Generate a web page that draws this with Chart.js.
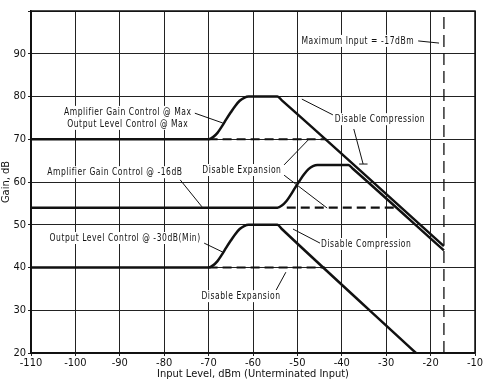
<!DOCTYPE html>
<html><head><meta charset="utf-8">
<script src="https://cdn.jsdelivr.net/npm/chart.js@4/dist/chart.umd.min.js"></script>
<style>html,body{margin:0;padding:0;background:#fff}#wrap{width:487px;height:383px}</style>
</head><body><div id="wrap"><canvas id="c" width="487" height="383"></canvas></div>
<script>
// ---- data ----
const xTicks = [-110,-100,-90,-80,-70,-60,-50,-40,-30,-20,-10];
const yTicks = [20,30,40,50,60,70,80,90];
const maxX = [-110,-70,-69,-68,-67,-66,-65,-64,-63,-62,-61,-54.5,-53.5,-17];
const maxY = [70,70,70.5,71.5,73,74.7,76.3,77.8,79,79.7,80,80,79.1,45];
const m16X = [-110,-54.5,-53.5,-52.5,-51.5,-50.5,-49.5,-48.5,-47.5,-46.5,-45.5,-38.5,-37.5,-17];
const m16Y = [54,54,54.5,55.5,57,58.7,60.3,61.8,63,63.7,64,64,63.1,44];
const minX = [-110,-70,-69,-68,-67,-66,-65,-64,-63,-62,-61,-54.5,-53.5,-23.3];
const minY = [40,40,40.5,41.5,43,44.7,46.3,47.8,49,49.7,50,50,49.0,20];
const noExpMaxX = [-70,-43.5], noExpMaxY = [70,70];
const noExp16X = [-52.4,-28], noExp16Y = [54,54];
const noExpMinX = [-70,-43.8], noExpMinY = [40,40];
const noCompMaxX = [-54,-47.5], noCompMaxY = [80,80];
const maxInX = [-17,-17], maxInY = [20,100];

const zip = (xs, ys) => xs.map((x, i) => ({x, y: ys[i]}));

// annotations (data coordinates)
const notes = [
  {lines:['Amplifier Gain Control @ Max','Output Level Control @ Max'], x:-88.2, y:76.4},
  {lines:['Disable Compression'], x:-31.4, y:74.7},
  {lines:['Amplifier Gain Control @ -16dB'], x:-91.1, y:62.3},
  {lines:['Disable Expansion'], x:-62.5, y:62.8},
  {lines:['Output Level Control @ -30dB(Min)'], x:-88.8, y:46.9},
  {lines:['Disable Compression'], x:-34.5, y:45.5},
  {lines:['Disable Expansion'], x:-62.7, y:33.3},
  {lines:['Maximum Input = -17dBm'], x:-36.4, y:93.0}
];
const leaders = [
  [-73.1,76.1,-66.8,73.8],
  [-42.0,75.7,-49.0,79.4],
  [-37.3,72.4,-35.2,64.2],
  [-36.1,64.2,-34.2,64.2],
  [-76.4,60.5,-71.5,54.2],
  [-53.0,64.0,-47.6,69.8],
  [-53.0,61.6,-43.3,53.9],
  [-71.0,45.7,-66.8,43.6],
  [-44.9,45.7,-51.0,49.0],
  [-54.8,34.7,-52.6,38.9],
  [-22.8,93.0,-18.1,92.5]
];

const FONT = "'DejaVu Sans Condensed','Liberation Sans Narrow',sans-serif";
const SX = 0.77;

const annot = {
  id: 'annot',
  afterDatasetsDraw(chart) {
    const {ctx, scales: {x, y}} = chart;
    ctx.save();
    ctx.strokeStyle = '#111';
    ctx.lineWidth = 1;
    leaders.forEach(l => {
      ctx.beginPath();
      ctx.moveTo(x.getPixelForValue(l[0]), y.getPixelForValue(l[1]));
      ctx.lineTo(x.getPixelForValue(l[2]), y.getPixelForValue(l[3]));
      ctx.stroke();
    });
    ctx.font = '11px ' + FONT;
    ctx.textAlign = 'center';
    ctx.textBaseline = 'middle';
    try { ctx.letterSpacing = '0.7px'; } catch (e) {}
    notes.forEach(n => {
      const px = x.getPixelForValue(n.x), py = y.getPixelForValue(n.y);
      n.lines.forEach((t, i) => {
        const w = ctx.measureText(t).width * SX;
        ctx.fillStyle = '#fff';
        ctx.fillRect(px - w/2 - 1, py + i*12 - 6, w + 2, 12);
        ctx.save();
        ctx.translate(px, py + i*12);
        ctx.scale(SX, 1);
        ctx.fillStyle = '#111';
        ctx.fillText(t, 0, 0);
        ctx.restore();
      });
    });
    ctx.restore();
  }
};

const solid = (xs, ys) => ({data: zip(xs, ys), borderColor:'#111', borderWidth:2.5, pointRadius:0, cubicInterpolationMode:'monotone', fill:false});
const dashed = (xs, ys, w) => ({data: zip(xs, ys), borderColor:'#111', borderWidth:w||2.2, borderDash:[9,5], pointRadius:0, fill:false});

new Chart(document.getElementById('c'), {
  type: 'line',
  data: {
    datasets: [
      solid(maxX, maxY),
      solid(m16X, m16Y),
      solid(minX, minY),
      dashed(noExpMaxX, noExpMaxY),
      dashed(noExp16X, noExp16Y),
      dashed(noExpMinX, noExpMinY),
      dashed(noCompMaxX, noCompMaxY, 1.2),
      {data: zip(maxInX, maxInY), borderColor:'#111', borderWidth:1.3, borderDash:[12,6], pointRadius:0, fill:false}
    ]
  },
  options: {
    responsive: false,
    animation: false,
    events: [],
    layout: {padding: {top: 11, right: 12, left: 0, bottom: 0}},
    plugins: {legend: {display: false}, tooltip: {enabled: false}},
    scales: {
      x: {
        type: 'linear', min: -110, max: -10,
        afterBuildTicks: s => { s.ticks = xTicks.map(v => ({value: v})); },
        afterFit: s => { s.height = 30; },
        grid: {color: '#222', lineWidth: 1, tickLength: 3},
        border: {color: '#111', width: 1.5},
        ticks: {color: '#111', font: {family: FONT, size: 11}, padding: 1, maxRotation: 0},
        title: {display: true, text: 'Input Level, dBm (Unterminated Input)', color: '#111', font: {family: FONT, size: 11}, padding: {top: 0, bottom: 2}}
      },
      y: {
        type: 'linear', min: 20, max: 100,
        afterBuildTicks: s => { s.ticks = yTicks.concat([100]).map(v => ({value: v})); },
        afterFit: s => { s.width = 31; },
        grid: {color: '#222', lineWidth: 1, tickLength: 3},
        border: {color: '#111', width: 1.5},
        ticks: {color: '#111', font: {family: FONT, size: 11}, padding: 2, callback: v => v === 100 ? '' : v},
        title: {display: true, text: 'Gain, dB', color: '#111', font: {family: FONT, size: 11}, padding: {top: 0, bottom: 0}}
      }
    }
  },
  plugins: [annot, {
    id: 'frame',
    afterDraw(chart) {
      const {ctx, chartArea: a} = chart;
      ctx.save(); ctx.strokeStyle = '#111'; ctx.lineWidth = 1.5;
      ctx.strokeRect(a.left, a.top, a.right - a.left, a.bottom - a.top);
      ctx.restore();
    }
  }]
});
</script></body></html>
